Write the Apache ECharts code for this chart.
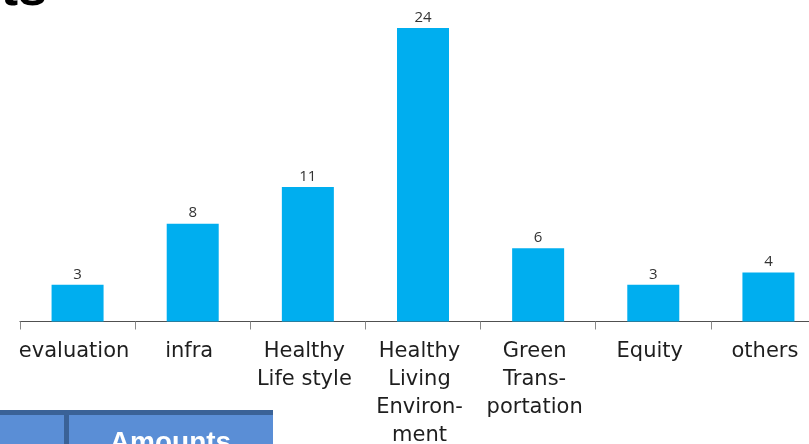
<!DOCTYPE html>
<html>
<head>
<meta charset="utf-8">
<style>
  html, body { margin: 0; padding: 0; background: #ffffff; }
  #chart { width: 809px; height: 444px; }
</style>
<script src="https://cdn.jsdelivr.net/npm/echarts@6/dist/echarts.min.js"></script>
</head>
<body>
<div id="chart"></div>
<script>
// Project counts by category
const categories = [
  'evaluation',
  'infra',
  'Healthy\nLife style',
  'Healthy\nLiving\nEnviron-\nment',
  'Green\nTrans-\nportation',
  'Equity',
  'others'
];
const projectCounts = [3, 8, 11, 24, 6, 3, 4];

const tableHeader = ['', 'Amounts'];
const titleTail = 'ts';

const chart = echarts.init(document.getElementById('chart'), null, { renderer: 'canvas' });

chart.setOption({
  animation: false,
  backgroundColor: '#ffffff',
  grid: {
    left: 20, top: 28, width: 806, height: 293.5,
    containLabel: false,
    outerBoundsMode: 'none'
  },
  xAxis: {
    type: 'category',
    data: categories,
    axisLine: { lineStyle: { color: '#505050', width: 1.2 } },
    axisTick: { show: true, length: 8, lineStyle: { color: '#8a8a8a', width: 1 } },
    axisLabel: {
      interval: 0,
      margin: 16,
      fontFamily: 'DejaVu Sans',
      fontSize: 21,
      lineHeight: 28,
      color: '#1e1e1e',
      align: 'center',
      padding: [0, 7, 0, 0]
    }
  },
  yAxis: {
    type: 'value',
    min: 0,
    max: 24,
    show: false,
    splitLine: { show: false }
  },
  series: [{
    type: 'bar',
    data: projectCounts,
    barWidth: 52,
    itemStyle: { color: '#00AEEF' },
    label: {
      show: true,
      position: 'top',
      distance: 3,
      fontFamily: 'Open Sans',
      fontSize: 15,
      color: '#333333'
    }
  }],
  graphic: [
    // Tail of the slide title running off the top edge
    {
      type: 'text',
      x: 47,
      y: 17,
      style: {
        text: titleTail,
        font: 'bold 52px "Liberation Sans"',
        fill: '#000000',
        textAlign: 'right',
        textVerticalAlign: 'bottom'
      }
    },
    // Table header strip at the bottom left
    {
      type: 'rect',
      shape: { x: 0, y: 410, width: 273, height: 40 },
      style: { fill: '#5A8ED6' }
    },
    {
      type: 'rect',
      shape: { x: 0, y: 410, width: 273, height: 5 },
      style: { fill: '#3A6297' }
    },
    {
      type: 'rect',
      shape: { x: 64, y: 410, width: 5, height: 40 },
      style: { fill: '#3A6297' }
    },
    {
      type: 'text',
      x: 170.5,
      y: 429,
      style: {
        text: tableHeader[1],
        font: 'bold 28px "Liberation Sans"',
        fill: '#ffffff',
        textAlign: 'center',
        textVerticalAlign: 'top'
      }
    }
  ]
});
</script>
</body>
</html>
